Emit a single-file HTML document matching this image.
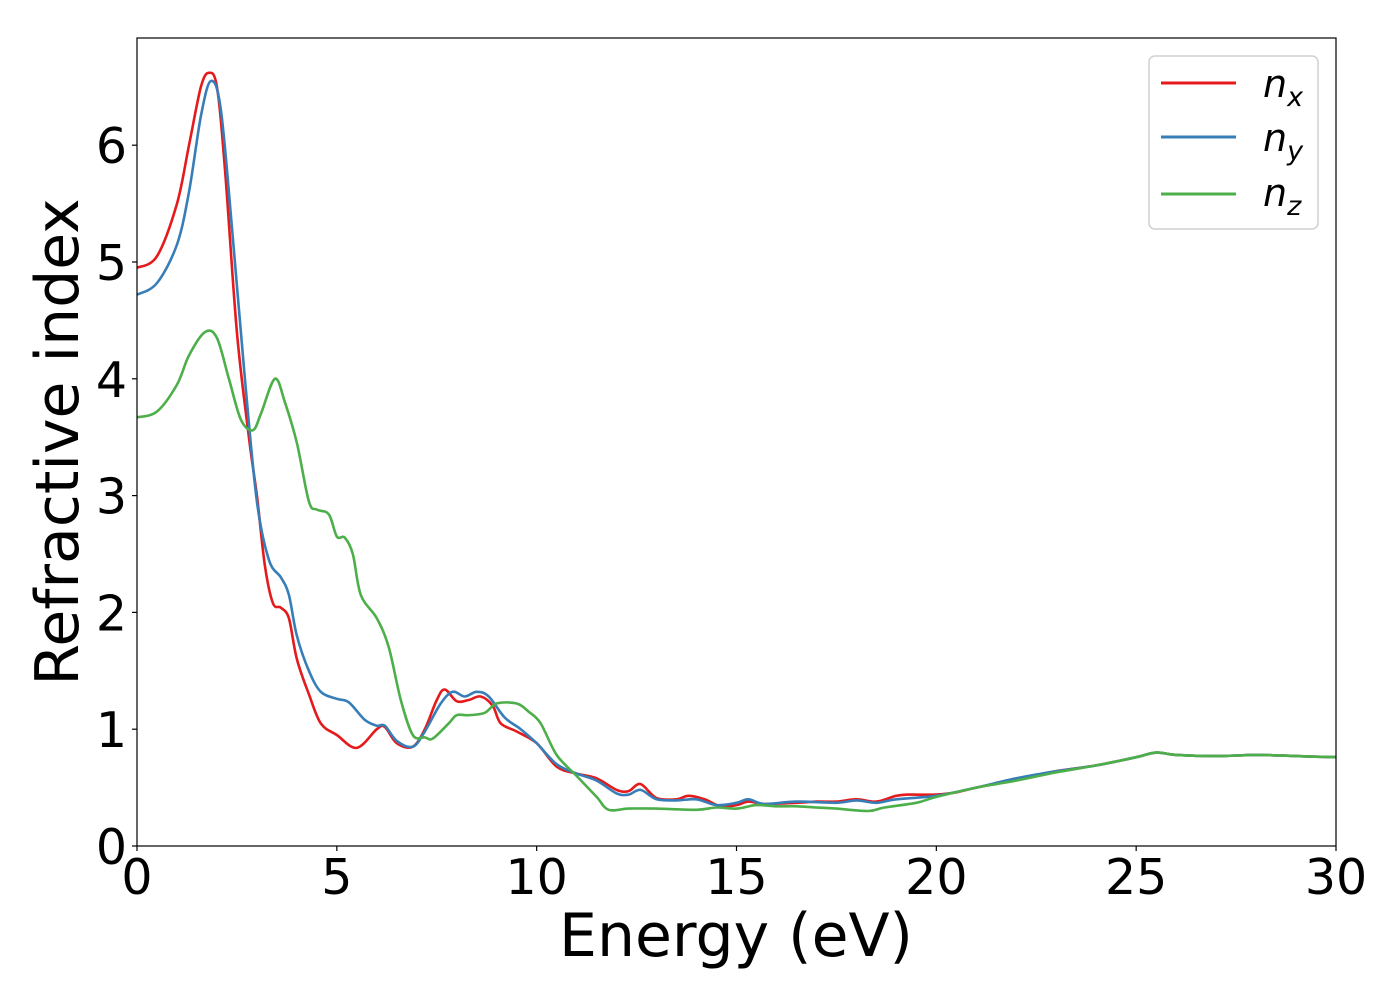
<!DOCTYPE html>
<html><head><meta charset="utf-8"><style>
html,body{margin:0;padding:0;background:#fff;}
svg{display:block;font-family:"DejaVu Sans","Liberation Sans",sans-serif;}
</style></head><body>
<svg id="chart" width="1400" height="1000" viewBox="0 0 1400 1000">
<rect x="0" y="0" width="1400" height="1000" fill="#fff"/>
<g id="plot"></g>
<g id="axes"></g>
<g id="legend">
 <rect x="1149" y="56" width="169" height="173" rx="6" fill="#fff" stroke="#d0d0d0" stroke-width="1.5"/>
 <line x1="1161" y1="83" x2="1236" y2="83" stroke="#e41a1c" stroke-width="3"/>
 <text x="1263" y="97" font-size="38" font-style="italic">n<tspan font-size="27" dy="9">x</tspan></text>
 <line x1="1161" y1="137" x2="1236" y2="137" stroke="#377eb8" stroke-width="3"/>
 <text x="1263" y="151" font-size="38" font-style="italic">n<tspan font-size="27" dy="9">y</tspan></text>
 <line x1="1161" y1="194" x2="1236" y2="194" stroke="#4daf4a" stroke-width="3"/>
 <text x="1263" y="206" font-size="38" font-style="italic">n<tspan font-size="27" dy="9">z</tspan></text>
</g>
</svg>
<script>
const nxE=[0,0.5,1.0,1.3,1.6,1.8,2.0,2.2,2.5,2.8,3.0,3.2,3.4,3.6,3.8,4.0,4.3,4.6,5.0,5.5,6.0,6.2,6.5,6.9,7.2,7.5,7.7,8.0,8.3,8.6,8.9,9.1,9.5,10.0,10.5,11.0,11.5,12.0,12.3,12.6,13.0,13.5,13.8,14.2,14.6,15.0,15.3,15.7,16.5,17,17.5,18,18.5,19,19.3,20,20.5,21,22,23,24,25,25.5,26,27,28,29,30];
const nxV=[4.95,5.05,5.5,6.0,6.5,6.62,6.5,5.8,4.4,3.5,3.0,2.4,2.08,2.04,1.95,1.6,1.3,1.05,0.95,0.84,1.0,1.02,0.88,0.85,1.0,1.25,1.34,1.24,1.25,1.28,1.2,1.05,0.98,0.88,0.68,0.62,0.58,0.48,0.47,0.53,0.41,0.40,0.43,0.40,0.34,0.35,0.38,0.36,0.37,0.38,0.38,0.40,0.38,0.43,0.44,0.44,0.46,0.50,0.57,0.64,0.69,0.76,0.80,0.78,0.77,0.78,0.77,0.76];
const nyE=[0,0.5,1.0,1.3,1.6,1.85,2.1,2.4,2.7,3.0,3.3,3.6,3.8,4.0,4.3,4.6,5.0,5.3,5.7,6.0,6.2,6.5,6.9,7.2,7.6,7.9,8.2,8.5,8.8,9.2,9.6,10.0,10.5,11.0,11.5,12.0,12.3,12.6,13.0,13.5,14,14.5,15,15.3,15.7,16.5,17.5,18,18.5,19,20,21,22,23,24,25,25.5,26,27,28,29,30];
const nyV=[4.72,4.82,5.15,5.6,6.25,6.55,6.3,5.2,4.0,2.95,2.45,2.3,2.15,1.8,1.5,1.32,1.26,1.23,1.08,1.03,1.03,0.9,0.85,0.98,1.22,1.32,1.28,1.32,1.28,1.1,1.0,0.88,0.7,0.62,0.56,0.45,0.44,0.48,0.40,0.39,0.40,0.35,0.37,0.40,0.36,0.38,0.37,0.39,0.37,0.40,0.43,0.50,0.58,0.64,0.69,0.76,0.80,0.78,0.77,0.78,0.77,0.76];
const nzE=[0,0.5,1.0,1.3,1.7,2.0,2.3,2.6,2.9,3.1,3.45,3.7,4.0,4.3,4.5,4.8,5.0,5.2,5.4,5.6,6.0,6.3,6.6,6.9,7.2,7.4,7.8,8.0,8.3,8.7,9.0,9.5,9.8,10.1,10.5,11.0,11.5,11.8,12.3,13,14,14.5,15,15.5,16,16.5,17,17.5,18.3,18.7,19.5,20,21,21.5,22,23,24,25,25.5,26,27,28,29,30];
const nzV=[3.67,3.72,3.95,4.2,4.4,4.35,4.0,3.65,3.56,3.7,4.0,3.8,3.45,2.95,2.88,2.84,2.65,2.64,2.5,2.15,1.95,1.7,1.25,0.95,0.93,0.92,1.05,1.12,1.12,1.14,1.22,1.22,1.15,1.05,0.78,0.6,0.42,0.31,0.32,0.32,0.31,0.33,0.32,0.35,0.34,0.34,0.33,0.32,0.30,0.33,0.37,0.42,0.5,0.53,0.56,0.63,0.69,0.76,0.80,0.78,0.77,0.78,0.77,0.76];
const xTicks=[0,5,10,15,20,25,30];
const yTicks=[0,1,2,3,4,5,6];

const X0=137,X1=1336,Y0=846,YT=38;
const xs=e=>X0+(e-0)/(30-0)*(X1-X0);
const ys=v=>Y0-v*116.8;
const NS='http://www.w3.org/2000/svg';
const plot=document.getElementById('plot'),axes=document.getElementById('axes');
function mk(t,a,p){const el=document.createElementNS(NS,t);for(const k in a)el.setAttribute(k,a[k]);p.appendChild(el);return el;}
function pathFor(E,V){
  const P=E.map((e,i)=>[xs(e),ys(V[i])]);
  let d='M'+P[0][0].toFixed(1)+','+P[0][1].toFixed(1);
  for(let i=0;i<P.length-1;i++){
    const p0=P[Math.max(0,i-1)],p1=P[i],p2=P[i+1],p3=P[Math.min(P.length-1,i+2)];
    const c1=[p1[0]+(p2[0]-p0[0])/6,p1[1]+(p2[1]-p0[1])/6];
    const c2=[p2[0]-(p3[0]-p1[0])/6,p2[1]-(p3[1]-p1[1])/6];
    d+='C'+c1[0].toFixed(1)+','+c1[1].toFixed(1)+' '+c2[0].toFixed(1)+','+c2[1].toFixed(1)+' '+p2[0].toFixed(1)+','+p2[1].toFixed(1);
  }
  return d;
}
const clip=mk('clipPath',{id:'cp'},plot);
mk('rect',{x:X0,y:YT,width:X1-X0,height:Y0-YT},clip);
const g=mk('g',{'clip-path':'url(#cp)'},plot);
const series=[[nxE,nxV,'#e41a1c','series-nx'],[nyE,nyV,'#377eb8','series-ny'],[nzE,nzV,'#4daf4a','series-nz']];
series.forEach(s=>{
  const p=mk('path',{d:pathFor(s[0],s[1]),fill:'none',stroke:s[2],'stroke-width':2.6,'stroke-linejoin':'round'},g);
  
  
});
const frame=mk('rect',{x:X0,y:YT,width:X1-X0,height:Y0-YT,fill:'none',stroke:'#000','stroke-width':1.2},axes);


xTicks.forEach(t=>{
  const x=xs(t);
  const l=mk('line',{x1:x,y1:Y0,x2:x,y2:Y0+5,stroke:'#000','stroke-width':1.2},axes);
  
  
  const tx=mk('text',{x:x,y:894,'font-size':49,'text-anchor':'middle'},axes);
  tx.textContent=t;
  
  
});
yTicks.forEach(t=>{
  const y=ys(t);
  const l=mk('line',{x1:X0-5,y1:y,x2:X0,y2:y,stroke:'#000','stroke-width':1.2},axes);
  
  
  const tx=mk('text',{x:127,y:y+18,'font-size':49,'text-anchor':'end'},axes);
  tx.textContent=t;
  
  
});
const xt=mk('text',{x:736,y:956,'font-size':60,'text-anchor':'middle'},axes);
xt.textContent='Energy (eV)';


const yt=mk('text',{x:0,y:0,'font-size':60,'text-anchor':'middle',transform:'translate(78,442) rotate(-90)'},axes);
yt.textContent='Refractive index';


</script>
</body></html>
